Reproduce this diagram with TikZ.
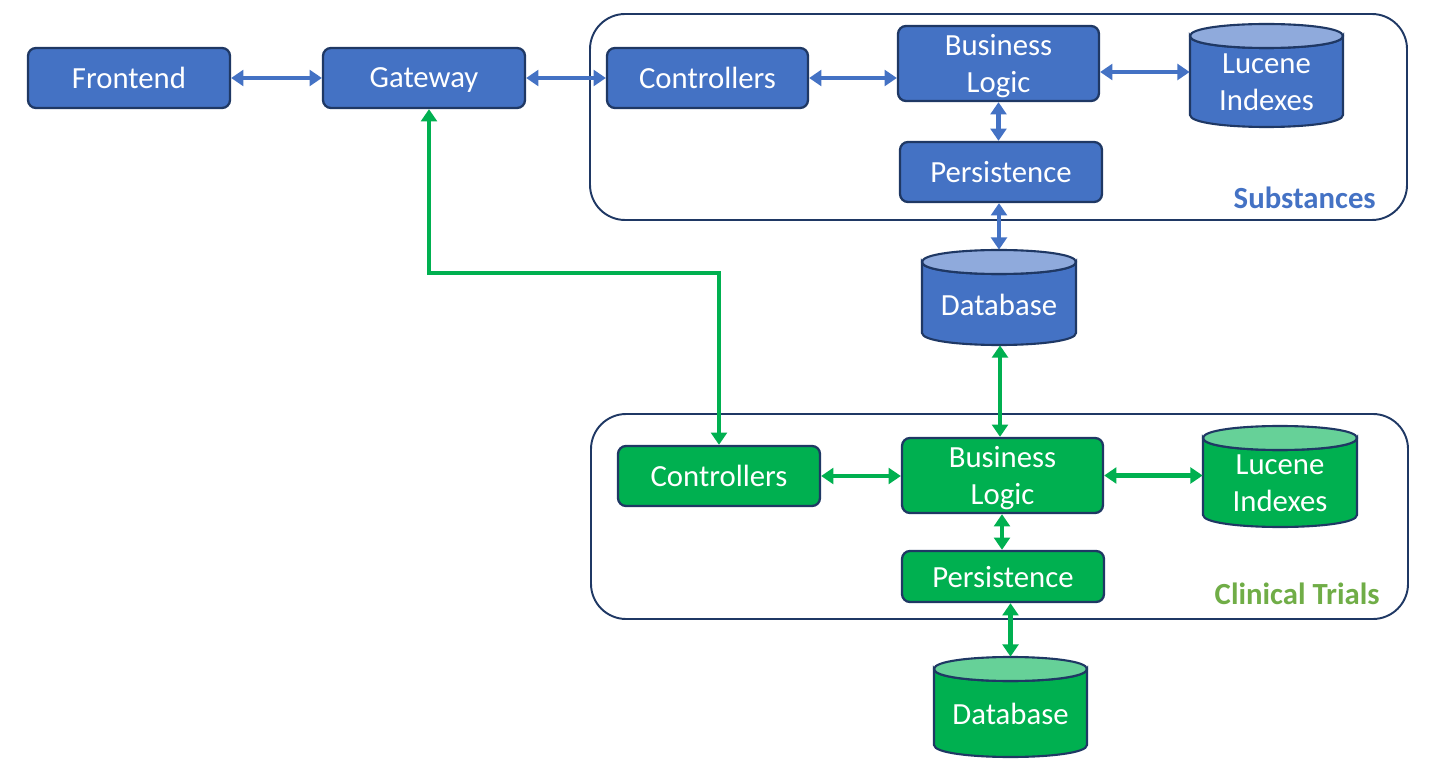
\documentclass[tikz,border=0pt]{standalone}
\usepackage{fontspec}
\setmainfont{Carlito}
\usetikzlibrary{arrows.meta,calc}
\definecolor{bfill}{HTML}{4472C4}
\definecolor{btop}{HTML}{8FAADC}
\definecolor{gfill}{HTML}{00B050}
\definecolor{gtop}{HTML}{66D198}
\definecolor{navy}{HTML}{1F3864}
\definecolor{olive}{HTML}{70AD47}
\newcommand\mycyl[8]{%
  \path[fill=#6, draw=navy, line width=1.2pt] ({#2},{#4+12}) -- ({#2},{#5-12})
     .. controls ({#2},{#5+4}) and ({#3},{#5+4}) .. ({#3},{#5-12}) -- ({#3},{#4+12})
     .. controls ({#3},{#4+28}) and ({#2},{#4+28}) .. cycle;
  \path[fill=#7, draw=navy, line width=1.2pt] ({#2},{#4+12})
     .. controls ({#2},{#4-4}) and ({#3},{#4-4}) .. ({#3},{#4+12})
     .. controls ({#3},{#4+28}) and ({#2},{#4+28}) .. cycle;
  \node[inner sep=0pt, minimum width={(#3-#2)*0.02cm}, minimum height={(#5-#4)*0.02cm}] (#1) at ({(#2+#3)/2},{(#4+#5)/2}) {};
  \node[txt] (#1-t) at ({(#2+#3)/2},{(#4+#5)/2+7}) {#8};
}
\begin{document}
\begin{tikzpicture}[x=0.02cm, y=-0.02cm,
  txt/.style={text=white, font=\fontsize{17.5}{21}\selectfont, align=center, inner sep=0pt, text depth=0pt},
  box/.style={txt, rectangle, rounded corners=4.5pt, draw=navy, line width=1.3pt},
  bbox/.style={box, fill=bfill},
  gbox/.style={box, fill=gfill},
  cont/.style={draw=navy, line width=1.1pt, rounded corners=20pt},
  arr/.style={{Triangle[length=7pt,width=9pt]}-{Triangle[length=7pt,width=9pt]}, line width=2.3pt},
  barr/.style={arr, draw=bfill},
  garr/.style={arr, draw=gfill}]
\useasboundingbox (0,0) rectangle (1430,780);
% containers
\draw[cont] (590,14) rectangle (1407,220);
\draw[cont] (591,414) rectangle (1408,619);
\node[anchor=east, text=bfill, font=\fontsize{17.5}{21}\selectfont\bfseries, inner sep=0pt] (sublab) at (1376,198) {Substances};
\node[anchor=east, text=olive, font=\fontsize{17.5}{21}\selectfont\bfseries, inner sep=0pt] (ctlab) at (1380,594) {Clinical Trials};
% blue nodes
\node[bbox, minimum width=4.04cm, minimum height=1.2cm] (fe) at (129,78) {Frontend};
\node[bbox, minimum width=4.04cm, minimum height=1.2cm] (gw) at (424,78) {Gateway};
\node[bbox, minimum width=4.02cm, minimum height=1.2cm] (c1) at (707.5,78) {Controllers};
\node[bbox, minimum width=4.02cm, minimum height=1.5cm] (bl1) at (998.5,63.5) {Business\\Logic};
\node[bbox, minimum width=4.04cm, minimum height=1.2cm] (p1) at (1001,172) {Persistence};
\mycyl{lu1}{1190}{1343}{24}{127}{bfill}{btop}{Lucene\\Indexes}
\mycyl{db1}{922}{1076}{250}{345}{bfill}{btop}{Database}
% green nodes
\node[gbox, minimum width=4.04cm, minimum height=1.2cm] (cg) at (719,476) {Controllers};
\node[gbox, minimum width=4.02cm, minimum height=1.5cm] (bl2) at (1002.5,475.5) {Business\\Logic};
\node[gbox, minimum width=4.04cm, minimum height=1.02cm] (p2) at (1003,576.5) {Persistence};
\mycyl{lu2}{1203}{1357}{426}{527}{gfill}{gtop}{Lucene\\Indexes}
\mycyl{db2}{934}{1087}{657}{757}{gfill}{gtop}{Database}
% blue connectors
\draw[barr] (fe.east) -- (gw.west);
\draw[barr] (gw.east) -- (c1.west);
\draw[barr] (c1.east) -- (c1.east -| bl1.west);
\draw[barr] ([yshift=0.07cm]lu1.west -| bl1.east) -- ([yshift=0.07cm]lu1.west);
\draw[barr] (bl1.south) -- (bl1.south |- p1.north);
\draw[barr] (db1.north |- p1.south) -- (db1.north);
% green connectors
\coordinate (mid) at (600,273);
\draw[garr] ([xshift=0.1cm]gw.south) |- (mid) -| (cg.north);
\draw[garr] ([xshift=0.02cm]db1.south) -- ([xshift=0.02cm]db1.south |- bl2.north);
\draw[garr] (cg.east) -- (cg.east -| bl2.west);
\draw[garr] (bl2.east) -- (bl2.east -| lu2.west);
\draw[garr] ([xshift=-0.01cm]bl2.south) -- ([xshift=-0.01cm]bl2.south |- p2.north);
\draw[garr] (db2.north |- p2.south) -- (db2.north);
\end{tikzpicture}
\end{document}
